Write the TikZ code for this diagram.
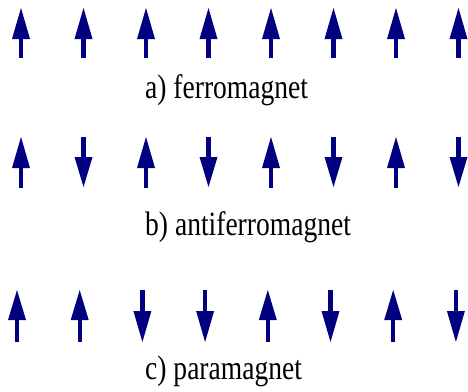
\documentclass[tikz,border=0pt]{standalone}
\usepackage{fontspec}
\setmainfont{Liberation Serif}
\definecolor{spin}{RGB}{0,0,128}
\newcommand\spinarrow[4]{% x, tail y, tip y, head base y
  \fill[spin] (#1-2.1,#2) rectangle (#1+2.1,#4);
  \fill[spin] (#1-9,#4) -- (#1,#3) -- (#1+9,#4) -- cycle;}
\begin{document}
\begin{tikzpicture}[x=1pt,y=-1pt,
  lab/.style={anchor=base west,inner sep=0pt,font=\fontsize{34}{40}\selectfont}]
\useasboundingbox (0,0) rectangle (468,391);
% row a
\foreach \i in {0,...,7}{
  \pgfmathsetmacro\xx{21+62.5*\i}
  \spinarrow{\xx}{58}{8}{39}
}
% row b
\foreach \i/\d in {0/u,1/d,2/u,3/d,4/u,5/d,6/u,7/d}{
  \pgfmathsetmacro\xx{21+62.5*\i}
  \if\d u\spinarrow{\xx}{188}{137}{168}\else\spinarrow{\xx}{137}{187}{157}\fi
}
% row c
\foreach \i/\d in {0/u,1/u,2/d,3/d,4/u,5/d,6/u,7/d}{
  \pgfmathsetmacro\xx{17+62.7*\i}
  \if\d u\spinarrow{\xx}{342}{290}{320}\else\spinarrow{\xx}{290}{342}{311}\fi
}
\node[lab] (la) at (145,98) {\scalebox{0.81}[1]{a) ferromagnet}};
\node[lab] (lb) at (145,235) {\scalebox{0.81}[1]{b) antiferromagnet}};
\node[lab] (lc) at (145,379) {\scalebox{0.81}[1]{c) paramagnet}};
\end{tikzpicture}
\end{document}
